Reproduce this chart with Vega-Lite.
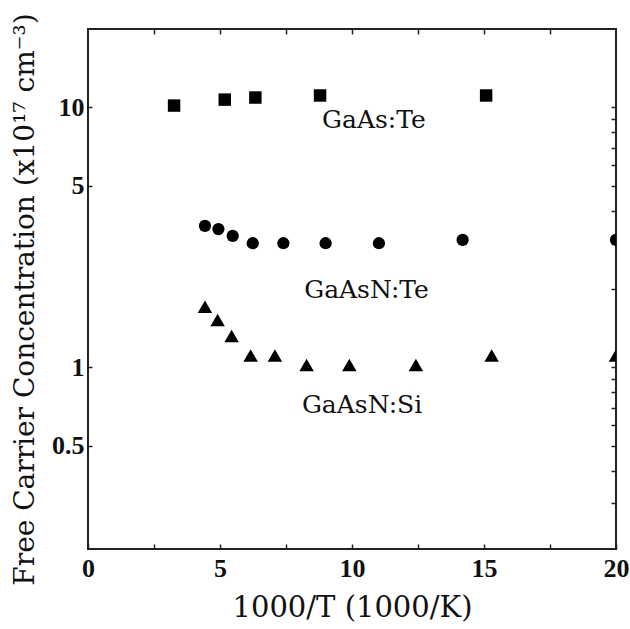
{
  "$schema": "https://vega.github.io/schema/vega-lite/v6.json",
  "autosize": "none",
  "width": 528,
  "height": 520,
  "padding": {"left": 88, "top": 29, "right": 14, "bottom": 80},
  "background": "white",
  "config": {
    "view": {"stroke": "#222", "strokeWidth": 2},
    "axis": {"domain": false, "grid": false, "tickColor": "#222", "labelColor": "#111", "titleColor": "#111"}
  },
  "datasets": {
    "pts": [
      {"series": "GaAs:Te", "x": 3.26, "y": 10.15},
      {"series": "GaAs:Te", "x": 5.18, "y": 10.7},
      {"series": "GaAs:Te", "x": 6.34, "y": 10.9},
      {"series": "GaAs:Te", "x": 8.79, "y": 11.1},
      {"series": "GaAs:Te", "x": 15.08, "y": 11.1},
      {"series": "GaAsN:Te", "x": 4.43, "y": 3.5},
      {"series": "GaAsN:Te", "x": 4.94, "y": 3.4},
      {"series": "GaAsN:Te", "x": 5.48, "y": 3.2},
      {"series": "GaAsN:Te", "x": 6.24, "y": 3.0},
      {"series": "GaAsN:Te", "x": 7.4, "y": 3.0},
      {"series": "GaAsN:Te", "x": 9.0, "y": 3.0},
      {"series": "GaAsN:Te", "x": 11.02, "y": 3.0},
      {"series": "GaAsN:Te", "x": 14.19, "y": 3.09},
      {"series": "GaAsN:Te", "x": 20.0, "y": 3.09},
      {"series": "GaAsN:Si", "x": 4.43, "y": 1.71},
      {"series": "GaAsN:Si", "x": 4.91, "y": 1.52},
      {"series": "GaAsN:Si", "x": 5.44, "y": 1.32},
      {"series": "GaAsN:Si", "x": 6.16, "y": 1.11},
      {"series": "GaAsN:Si", "x": 7.08, "y": 1.11},
      {"series": "GaAsN:Si", "x": 8.28, "y": 1.02},
      {"series": "GaAsN:Si", "x": 9.9, "y": 1.02},
      {"series": "GaAsN:Si", "x": 12.42, "y": 1.02},
      {"series": "GaAsN:Si", "x": 15.29, "y": 1.11},
      {"series": "GaAsN:Si", "x": 20.0, "y": 1.11}
    ],
    "labels": [
      {"label": "GaAs:Te", "x": 10.83, "y": 8.97},
      {"label": "GaAsN:Te", "x": 10.55, "y": 1.98},
      {"label": "GaAsN:Si", "x": 10.38, "y": 0.718}
    ]
  },
  "layer": [
    {
      "data": {"name": "pts"},
      "mark": {"type": "point", "filled": true, "color": "black", "opacity": 1, "clip": true},
      "encoding": {
        "x": {
          "field": "x", "type": "quantitative",
          "scale": {"domain": [0, 20], "nice": false, "zero": false},
          "axis": {
            "orient": "bottom",
            "values": [0, 2.5, 5, 7.5, 10, 12.5, 15, 17.5, 20],
            "labelExpr": "datum.value % 5 == 0 ? datum.label : ''",
            "tickSize": -5, "tickWidth": 1.5,
            "labelFont": "Liberation Serif", "labelFontWeight": "bold", "labelFontSize": 26,
            "labelPadding": 11, "labelFlush": false,
            "title": "1000/T (1000/K)",
            "titleFont": "DejaVu Serif", "titleFontWeight": "normal", "titleFontSize": 29,
            "titleX": 264, "titleY": 58, "titleAlign": "center", "titleBaseline": "middle"
          }
        },
        "y": {
          "field": "y", "type": "quantitative",
          "scale": {"type": "log", "domain": [0.2, 20], "nice": false},
          "axis": {
            "orient": "left",
            "values": [0.5, 1, 5, 10],
            "labelExpr": "datum.value == 0.5 ? '0.5' : datum.label",
            "tickSize": -4, "tickWidth": 1.5,
            "labelFont": "Liberation Serif", "labelFontWeight": "bold", "labelFontSize": 26,
            "labelPadding": 8,
            "title": "Free Carrier Concentration (x10¹⁷ cm⁻³)",
            "titleFont": "DejaVu Serif", "titleFontWeight": "normal", "titleFontSize": 28,
            "titleAngle": -90, "titleX": -63, "titleY": 270, "titleAlign": "center", "titleBaseline": "middle"
          }
        },
        "shape": {
          "field": "series", "type": "nominal",
          "scale": {"domain": ["GaAs:Te", "GaAsN:Te", "GaAsN:Si"], "range": ["square", "circle", "triangle-up"]},
          "legend": null
        },
        "size": {
          "field": "series", "type": "nominal",
          "scale": {"type": "ordinal", "domain": ["GaAs:Te", "GaAsN:Te", "GaAsN:Si"], "range": [155, 150, 210]},
          "legend": null
        }
      }
    },
    {
      "data": {"name": "labels"},
      "mark": {"type": "text", "font": "DejaVu Serif", "fontSize": 25, "color": "#111", "align": "center", "baseline": "middle"},
      "encoding": {
        "x": {
          "field": "x", "type": "quantitative",
          "scale": {"domain": [0, 20], "nice": false, "zero": false},
          "axis": {"orient": "top", "values": [2.5, 5, 7.5, 10, 12.5, 15, 17.5], "labels": false, "tickSize": -5, "tickWidth": 1.5, "title": null}
        },
        "y": {
          "field": "y", "type": "quantitative",
          "scale": {"type": "log", "domain": [0.2, 20], "nice": false},
          "axis": {"orient": "right", "values": [0.3, 0.4, 0.5, 0.6, 0.7, 0.8, 0.9, 1, 2, 3, 4, 5, 6, 7, 8, 9, 10], "labels": false, "tickSize": -5, "tickWidth": 1.5, "title": null}
        },
        "text": {"field": "label", "type": "nominal"}
      }
    }
  ],
  "resolve": {"axis": {"x": "independent", "y": "independent"}}
}
